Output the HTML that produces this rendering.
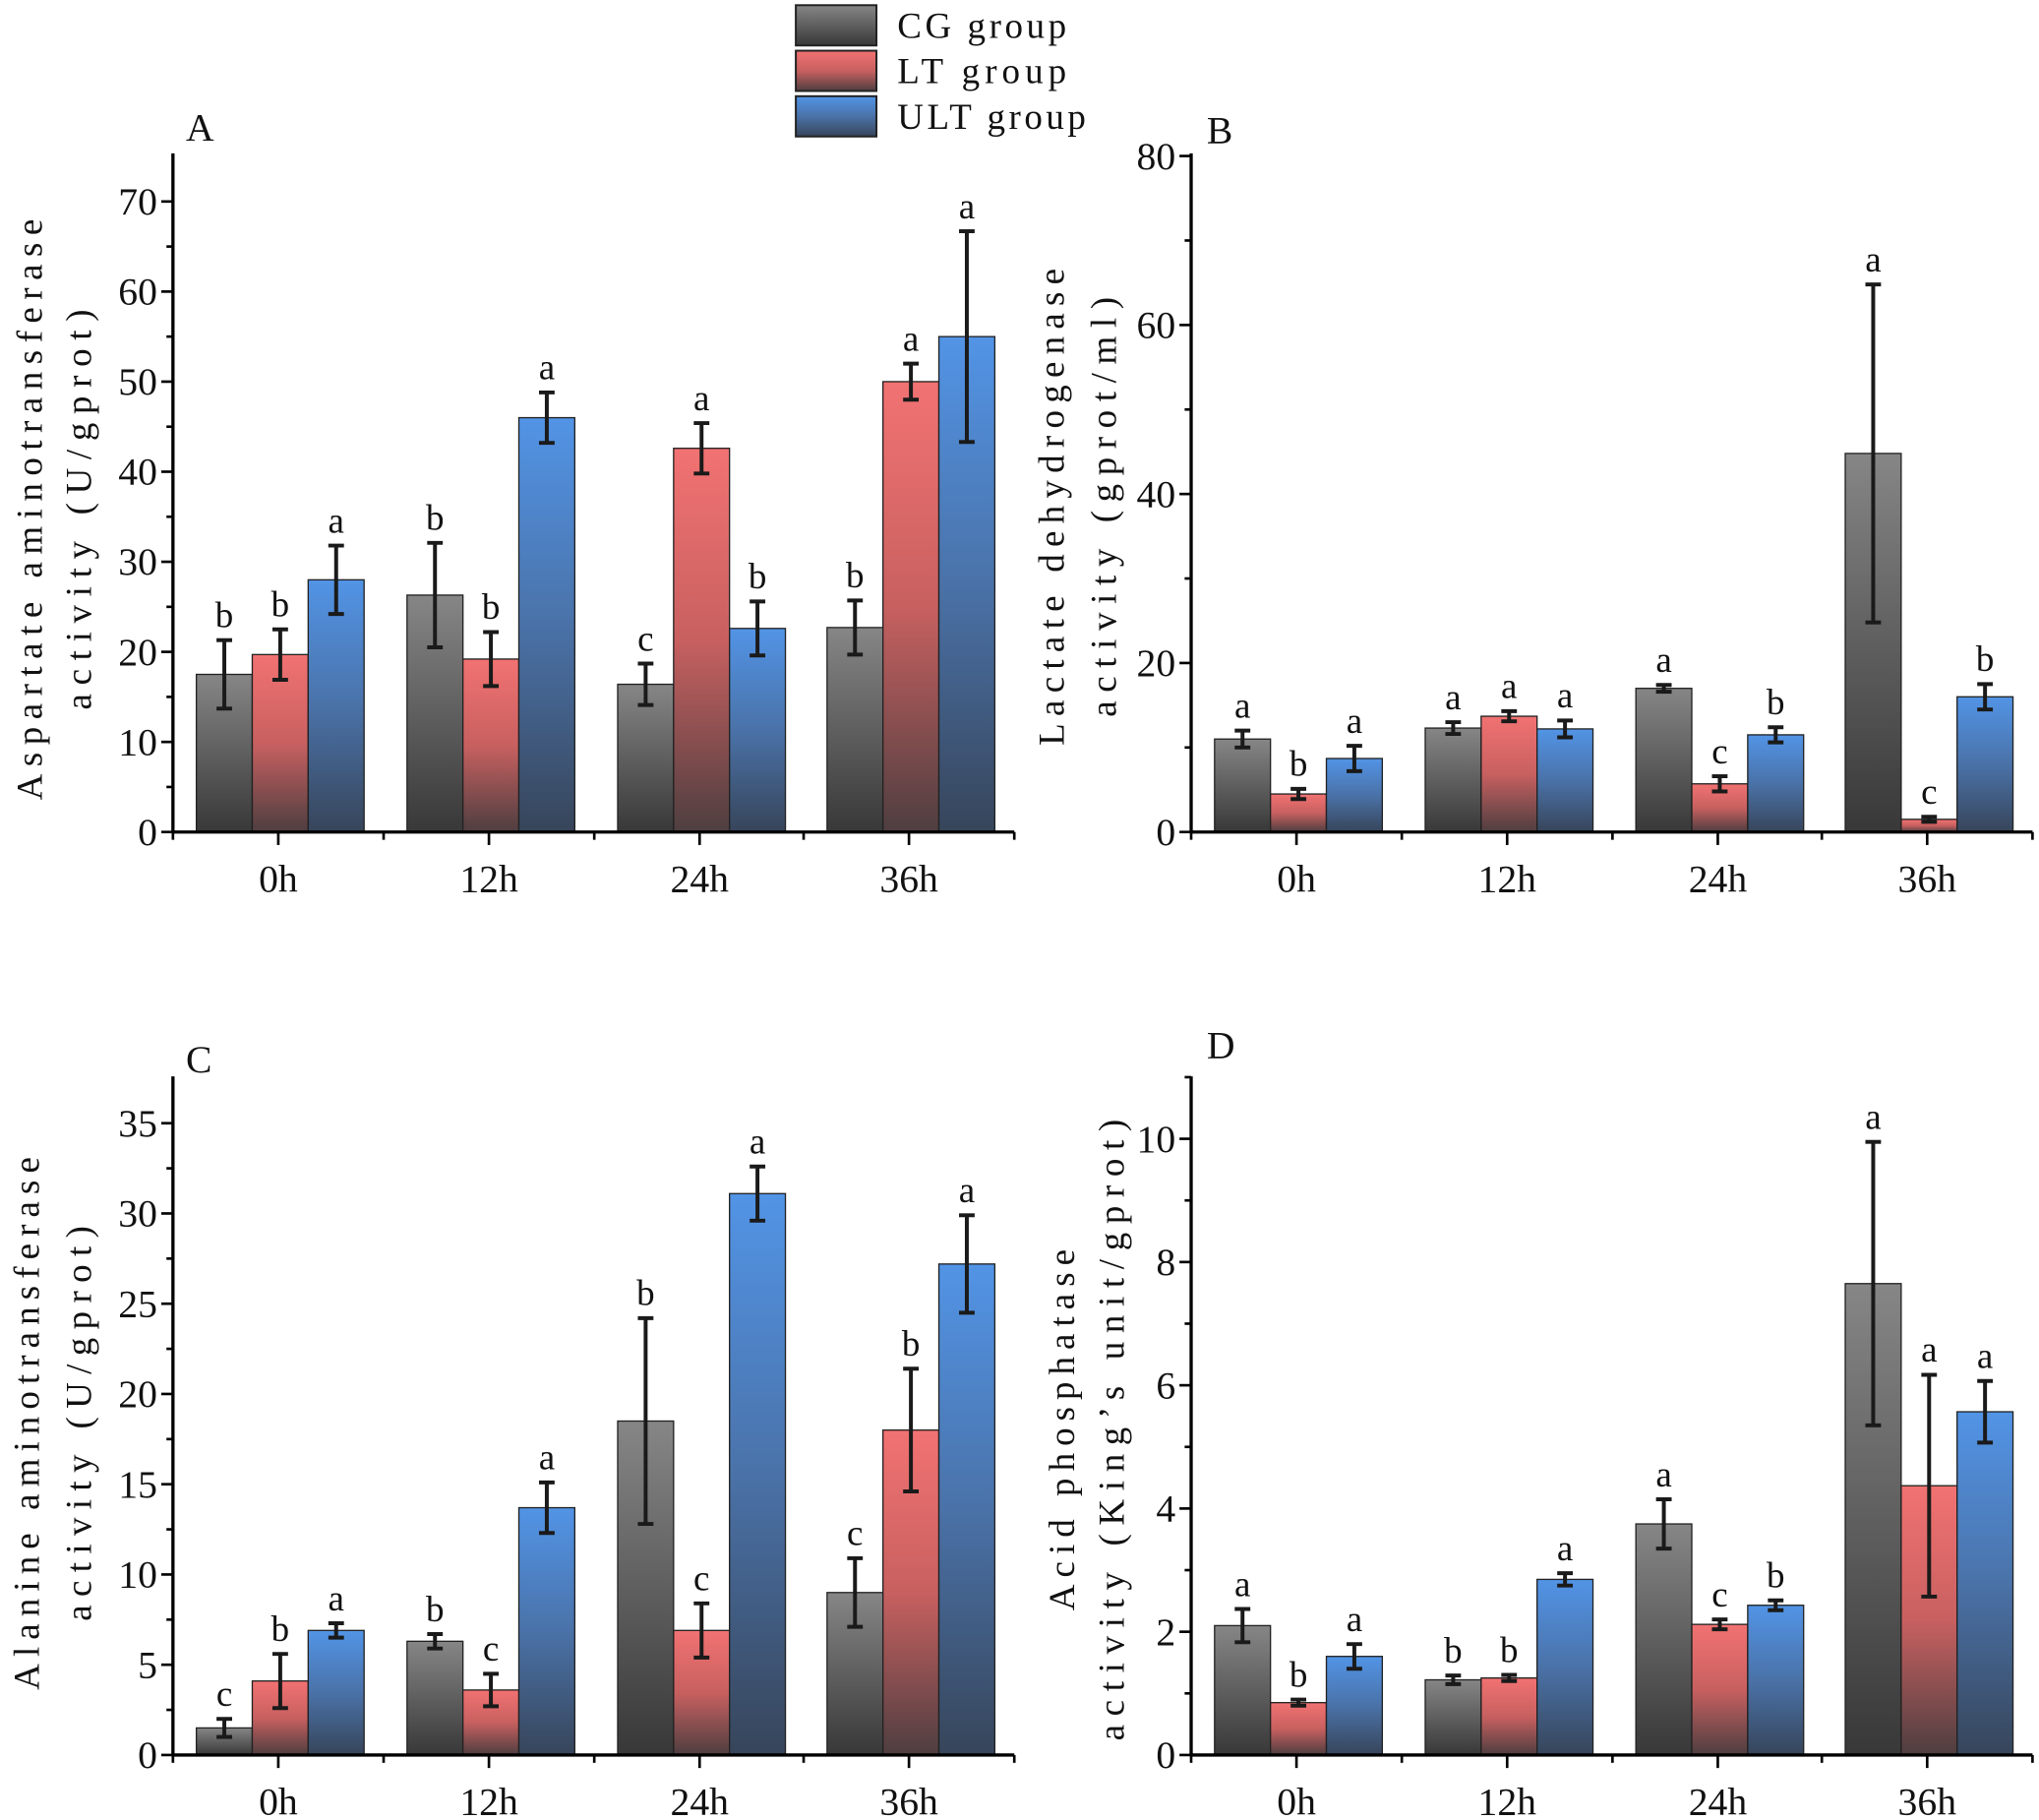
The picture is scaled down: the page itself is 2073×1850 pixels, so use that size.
<!DOCTYPE html>
<html><head><meta charset="utf-8"><style>
html,body{margin:0;padding:0;background:#fff;}
svg{display:block;}
text{font-family:"Liberation Serif","Noto Serif CJK SC",serif;fill:#111;}
</style></head><body>
<svg id="s" width="2073" height="1850" viewBox="0 0 1568 1400" preserveAspectRatio="none" xmlns="http://www.w3.org/2000/svg">
<defs>
<linearGradient id="g0" x1="0" y1="0" x2="0" y2="1"><stop offset="0" stop-color="#868686"/><stop offset="1" stop-color="#383838"/></linearGradient>
<linearGradient id="g1" x1="0" y1="0" x2="0" y2="1"><stop offset="0" stop-color="#f27272"/><stop offset="0.5" stop-color="#c86060"/><stop offset="1" stop-color="#4e3e40"/></linearGradient>
<linearGradient id="g2" x1="0" y1="0" x2="0" y2="1"><stop offset="0" stop-color="#5294e6"/><stop offset="0.5" stop-color="#4a72a8"/><stop offset="1" stop-color="#37455a"/></linearGradient>
</defs>
<g id="root"></g>
</svg>
<script>
var root=document.getElementById('root');var h='';
function T(x,y,s,sz,extra){h+='<text x="'+x+'" y="'+y+'" font-size="'+sz+'" '+(extra||'')+'>'+s+'</text>';}
function panel(o){
 var ax=o.ax, z=o.zero, top=o.top, xe=o.xe, k=o.k;
 var cs=[ax+81,ax+243,ax+405,ax+566];
 for(var g=0;g<4;g++){for(var i=0;i<3;i++){
  var v=o.v[g][i], e=o.e[g][i], x=cs[g]-63+i*43, y=z-v*k;
  h+='<rect x="'+x+'" y="'+y+'" width="43" height="'+(v*k)+'" fill="url(#g'+i+')" stroke="#222" stroke-width="1"/>';
  var cx=x+21.5, y1=z-(v+e)*k, y2=z-(v-e)*k;
  h+='<line x1="'+cx+'" y1="'+y1+'" x2="'+cx+'" y2="'+y2+'" stroke="#1a1a1a" stroke-width="3"/>';
  h+='<line x1="'+(cx-6)+'" y1="'+y1+'" x2="'+(cx+6)+'" y2="'+y1+'" stroke="#1a1a1a" stroke-width="3"/>';
  h+='<line x1="'+(cx-6)+'" y1="'+y2+'" x2="'+(cx+6)+'" y2="'+y2+'" stroke="#1a1a1a" stroke-width="3"/>';
  T(cx,y1-10,o.l[g][i],28,'text-anchor="middle"');
 }}
 h+='<line x1="'+ax+'" y1="'+top+'" x2="'+ax+'" y2="'+(z+1)+'" stroke="#000" stroke-width="2.5"/>';
 h+='<line x1="'+(ax-1)+'" y1="'+z+'" x2="'+xe+'" y2="'+z+'" stroke="#000" stroke-width="2.5"/>';
 for(var t=0;t<=o.max;t+=o.minor){var y=z-t*k;var major=Math.abs(t/o.step-Math.round(t/o.step))<1e-6;
  h+='<line x1="'+(ax-(major?9:5))+'" y1="'+y+'" x2="'+ax+'" y2="'+y+'" stroke="#000" stroke-width="2"/>';
  if(major)T(ax-12,y+10,Math.round(t),30,'text-anchor="end"');}
 var bs=[ax,ax+162,ax+324,ax+485,xe];
 for(var b=0;b<bs.length;b++)h+='<line x1="'+bs[b]+'" y1="'+z+'" x2="'+bs[b]+'" y2="'+(z+6)+'" stroke="#000" stroke-width="2"/>';
 var lab=['0h','12h','24h','36h'];
 for(var g=0;g<4;g++){h+='<line x1="'+cs[g]+'" y1="'+z+'" x2="'+cs[g]+'" y2="'+(z+10)+'" stroke="#000" stroke-width="2"/>';T(cs[g],z+46,lab[g],30,'text-anchor="middle"');}
 T(o.px,o.py,o.P,30);
 T(-o.L1/2,0,o.y1,28,'textLength="'+o.L1+'" lengthAdjust="spacing" transform="translate('+o.yx1+','+o.yc+') rotate(-90)"');
 T(-o.L2/2,0,o.y2,28,'textLength="'+o.L2+'" lengthAdjust="spacing" transform="translate('+o.yx2+','+o.yc+') rotate(-90)"');
}
panel({ax:133,zero:640,top:118,xe:780,k:485/70,max:70,step:10,minor:5,P:'A',px:143,py:108,
 v:[[17.5,19.7,28],[26.3,19.2,46],[16.4,42.6,22.6],[22.7,50,55]],
 e:[[3.8,2.8,3.8],[5.8,3,2.8],[2.3,2.8,3],[3,2,11.7]],
 l:[['b','b','a'],['b','b','a'],['c','a','b'],['b','a','a']],
 y1:'Aspartate aminotransferase',y2:'activity (U/gprot)',yx1:32,yx2:70,yc:392,L1:447,L2:308});
panel({ax:916,zero:640,top:118,xe:1563,k:520/80,max:80,step:20,minor:10,P:'B',px:928,py:110,
 v:[[11,4.5,8.7],[12.3,13.7,12.2],[17,5.7,11.5],[44.8,1.5,16]],
 e:[[1,0.6,1.5],[0.7,0.6,1],[0.4,0.9,0.9],[20,0.3,1.5]],
 l:[['a','b','a'],['a','a','a'],['a','c','b'],['a','c','b']],
 y1:'Lactate dehydrogenase',y2:'activity (gprot/ml)',yx1:818,yx2:858,yc:390,L1:367,L2:323});
panel({ax:133,zero:1350,top:828,xe:780,k:486/35,max:35,step:5,minor:2.5,P:'C',px:143,py:825,
 v:[[1.5,4.1,6.9],[6.3,3.6,13.7],[18.5,6.9,31.1],[9,18,27.2]],
 e:[[0.5,1.5,0.4],[0.4,0.9,1.4],[5.7,1.5,1.5],[1.9,3.4,2.7]],
 l:[['c','b','a'],['b','c','a'],['b','c','a'],['c','b','a']],
 y1:'Alanine aminotransferase',y2:'activity (U/gprot)',yx1:30,yx2:70,yc:1095,L1:410,L2:304});
panel({ax:916,zero:1350,top:828,xe:1563,k:474/10,max:11,step:2,minor:1,P:'D',px:928,py:814,
 v:[[2.1,0.85,1.6],[1.22,1.25,2.85],[3.75,2.12,2.43],[7.65,4.37,5.57]],
 e:[[0.27,0.05,0.2],[0.07,0.05,0.1],[0.4,0.08,0.08],[2.3,1.8,0.5]],
 l:[['a','b','a'],['b','b','a'],['a','c','b'],['a','a','a']],
 y1:'Acid phosphatase',y2:'activity (King’s unit/gprot)',yx1:826,yx2:864,yc:1100,L1:278,L2:478});
var ln=['CG group','LT group','ULT group'],lw=[130,130,145];
for(var i=0;i<3;i++){var y=4+i*35;h+='<rect x="612" y="'+y+'" width="62" height="31" fill="url(#g'+i+')" stroke="#222" stroke-width="1.5"/>';T(690,y+25,ln[i],28,'textLength="'+lw[i]+'" lengthAdjust="spacing"');}
root.innerHTML=h;
</script>
</body></html>
